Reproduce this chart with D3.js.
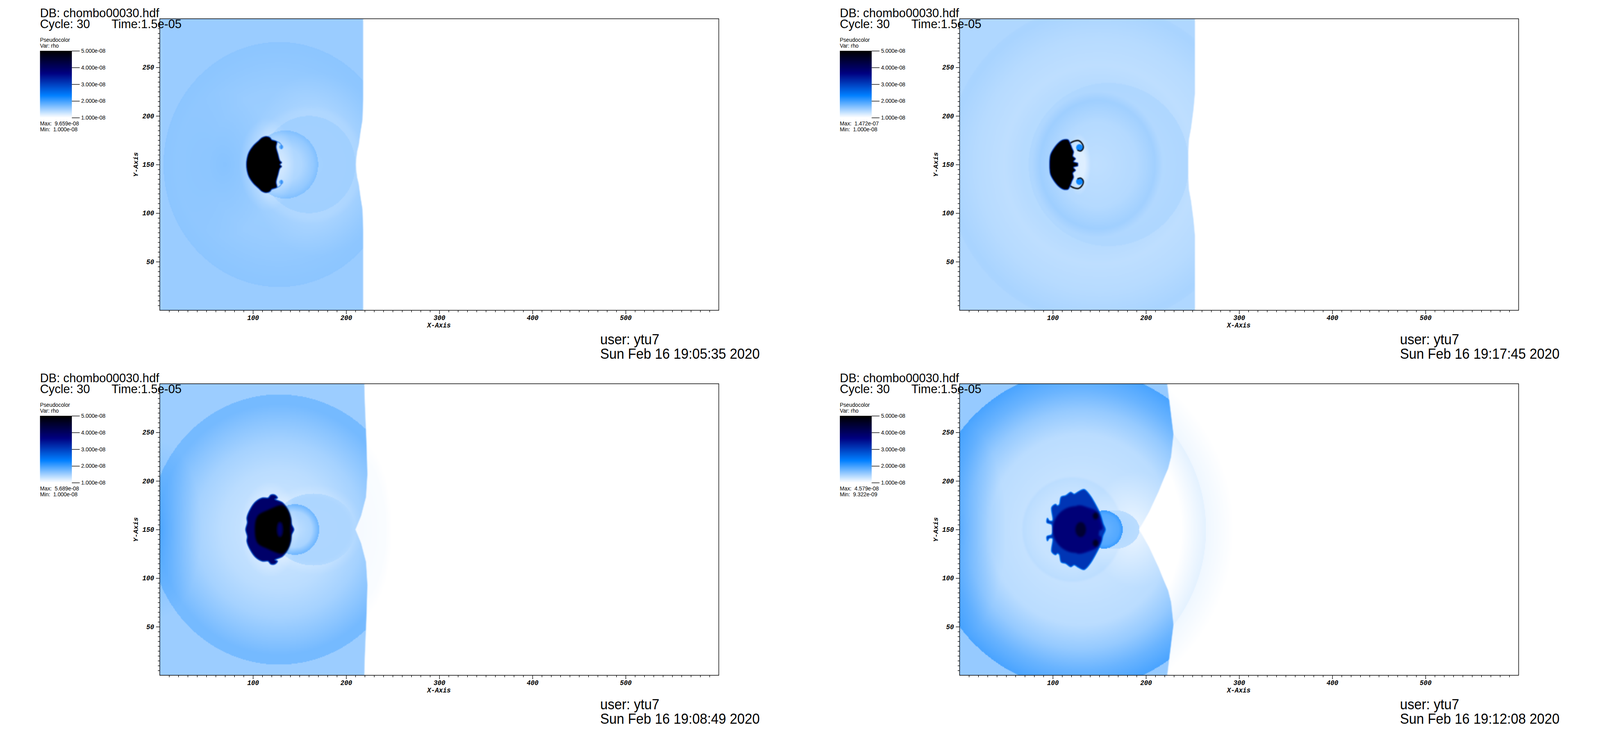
<!DOCTYPE html>
<html>
<head>
<meta charset="utf-8">
<script src="https://cdn.jsdelivr.net/npm/d3@7"></script>
<style>
  html, body { margin: 0; background: #fff; overflow: hidden; }
  svg { display: block; }
  text { font-family: "Liberation Sans", sans-serif; fill: #000; }
  .tick text, .axis-title { font-family: "Liberation Mono", monospace; font-weight: bold; font-style: italic; font-size: 17.5px; }
</style>
</head>
<body>
<script>
// panel text, same order as the picture: top left, top right, bottom left, bottom right
const maxLabels = ['9.659e-08', '1.472e-07', '5.689e-08', '4.579e-08'];
const minLabels = ['1.000e-08', '1.000e-08', '1.000e-08', '9.322e-09'];
const dateLabels = ['Sun Feb 16 19:05:35 2020', 'Sun Feb 16 19:17:45 2020', 'Sun Feb 16 19:08:49 2020', 'Sun Feb 16 19:12:08 2020'];

const xMajorTicks = [100, 200, 300, 400, 500];
const yMajorTicks = [50, 100, 150, 200, 250];
const legendTicks = [1, 2, 3, 4, 5];

// colour table of rho (units of 1e-8)
const rhoStops = [1, 2.333, 3.667, 5];
const colorStops = ['#ffffff', '#007fff', '#00007f', '#000000'];

const frontDy = [
  [0, 5, 13.4, 20, 34, 46, 67, 150],
  [0, 12, 25, 37, 57, 73, 150],
  [0, 14, 33.5, 57, 92, 131, 150],
  [0, 9, 18, 39, 52, 62.8, 75, 98, 125, 150]
];
const frontX = [
  [210.5, 210.7, 211.8, 213.5, 215.5, 217.5, 218.3, 218.3],
  [245.3, 245.4, 246, 248.3, 251, 252.5, 252.5],
  [210, 216, 221.3, 222.8, 221.7, 220, 219.5],
  [192.6, 198, 203.3, 213.5, 219, 223.8, 227, 229.5, 226, 222.8]
];

const backgroundRho = [1.53, 1.42, 1.52, 1.55];

// shells behind the front: [mode, centre x, x radius, y radius, shell positions, rho]
const shells1 = [
  ['add', 0, 5, 400, [0, 1], [-0.05, 0]],
  ['set', 128, 124, 126, [0, 0.6, 0.85, 1], [1.5, 1.53, 1.58, 1.6]],
  ['add', 70, 50, 75, [0, 1], [0.1, 0]],
  ['add', 170, 75, 95, [0, 0.6, 1], [-0.1, -0.08, 0]],
  ['add', 160, 62, 62, [0.75, 0.9, 1], [-0.03, -0.03, 0]],
  ['set', 160, 50, 50, [0, 0.85, 1], [1.48, 1.49, 1.49]],
  ['set', 135, 35, 35, [0, 0.5, 0.85, 1], [1.36, 1.42, 1.56, 1.66]],
  ['add', 115, 30, 48, [0.55, 0.75, 1], [-0.14, -0.08, 0]]
];
const shells2 = [
  ['set', 150, 165, 165, [0, 0.5, 0.62, 0.8, 0.97, 1], [1.36, 1.38, 1.34, 1.38, 1.45, 1.44]],
  ['set', 160, 86, 84, [0, 0.7, 0.97, 1], [1.38, 1.4, 1.42, 1.41]],
  ['add', 148, 70, 75, [0.6, 0.88, 1], [0, 0.09, 0]],
  ['add', 145, 40, 50, [0, 1], [-0.05, 0]],
  ['add', 128, 13, 32, [0.5, 1], [-0.18, 0]]
];
const shells3 = [
  ['set', 128, 139, 139, [0, 0.25, 0.45, 0.65, 0.8, 0.93, 1], [1.3, 1.3, 1.36, 1.47, 1.6, 1.72, 1.72]],
  ['add', 0, 45, 90, [0, 1], [0.22, 0]],
  ['add', 165, 55, 47, [0.7, 1], [-0.07, 0]],
  ['set', 165, 45, 37, [0, 0.85, 1], [1.42, 1.43, 1.4]],
  ['set', 145, 26, 26, [0, 0.7, 0.95, 1], [1.33, 1.45, 1.72, 1.75]],
  ['add', 118, 32, 50, [0.55, 1], [-0.12, 0]]
];
const shells4 = [
  ['set', 130, 164, 164, [0, 0.35, 0.6, 0.75, 0.88, 1], [1.28, 1.3, 1.36, 1.55, 1.78, 1.95]],
  ['add', 0, 50, 110, [0, 1], [0.25, 0]],
  ['add', 121, 55, 55, [0.7, 0.95, 1], [0, 0.05, 0]],
  ['add', 190, 50, 60, [0, 1], [-0.2, 0]],
  ['set', 165, 28, 20, [0, 1], [1.42, 1.36]],
  ['set', 155, 20, 19.5, [0, 0.8, 1], [1.78, 1.9, 2.05]]
];
const shellSets = [shells1, shells2, shells3, shells4];

// faint gas ahead of the front
const aheadSets = [
  [],
  [],
  [['set', 213, 36, 92, [0, 0.8, 1], [1.05, 1.03, 1]]],
  [['set', 108, 186, 186, [0.7, 0.84, 0.842, 1], [1, 1.14, 1.08, 1]]]
];

// clump outline, upper half as [x, distance above midline]
const clump1 = [[92.9, 0], [93.6, 6.7], [95.6, 12.7], [100.3, 19.4], [106.3, 24.8], [109.6, 27.7], [114.3, 29.1], [118.3, 27.9], [120.3, 25.5], [125.7, 23.5], [125, 18.1], [127, 10.7], [129, 4], [131, 2], [129, 0]];
const clump2 = [[96.5, 0], [97.4, 10], [101.3, 17], [106.7, 23], [111.2, 25.6], [116.5, 25.6], [118.7, 22], [120.7, 17], [122.5, 13], [121.6, 8.6], [124.6, 6], [122.3, 3], [127, 1.4], [127, 0]];
const clump3 = [[92.2, 0], [94, 7.2], [93.5, 12.1], [97.6, 21.8], [103, 28.7], [110.2, 32.6], [116.4, 32.6], [119.1, 35.5], [123.6, 35.5], [126.3, 32.6], [123.6, 31.2], [131.7, 27.7], [137, 20.9], [140.6, 12], [141.5, 5.3], [143.9, 0]];
const clump4 = [[99.8, 0], [98.8, 5.3], [93.7, 7.2], [94.3, 11.7], [96.3, 9], [99.8, 9.2], [98.8, 22.8], [103, 26], [105, 24.5], [107, 25.7], [109, 33.5], [114, 35], [119.3, 38.4], [123, 36.5], [127.5, 39], [133.6, 41.3], [139.8, 35.5], [146, 25.7], [151, 16], [154.1, 6.2], [156.6, 0]];
const clumps = [clump1, clump2, clump3, clump4];
const clumpRho = [5, 5, 3.9, 3.1];
const clumpRimWidth = [1.5, 1.5, 2.5, 2.5];
const clumpRimRho = [3, 3, 3, 2.5];

// darker parts inside a clump: outlines and their rho
const coreOutlines = [
  [], [],
  [[[102, 0], [105, 14], [116, 20], [131.7, 25], [137.5, 20], [140.5, 10], [140, 0]]],
  [[[125, 24], [140, 22], [148, 18], [152, 8], [153, 0], [125, 0]]]
];
const coreOutlineRho = [[], [], [5], [3.65]];
// [x, distance above midline, x radius, y radius, rho]
const coreSpots = [
  [], [],
  [[129, 0, 2.5, 7, 3.9]],
  [[125, 0, 25, 24, 3.75], [130, 0, 6, 8, 4.5], [146, 14, 3.5, 4, 4.6]]
];

// roll-up tails at the clump edge
const tails = [
  [[[120.3, 25.5], [125, 24], [129, 22], [131, 19], [130.5, 16]]],
  [[[118.7, 22], [122.8, 24], [127.7, 24.6], [131.8, 21], [132.7, 17], [130, 14], [126.4, 15]]],
  [],
  []
];
const tailRho = [2.6, 5, 3, 3];
const tailWidth = [1.5, 3.5, 2, 2];
// [x, distance above midline, radius, rho]
const swirls = [
  [[130.4, 18, 2.2, 1.9]],
  [[128.6, 17.4, 3.6, 2.25]],
  [],
  []
];

const W = 4276, H = 1868;
const plotW = 1494, plotH = 746;
const panelLeft = [427, 2564.5, 427, 2564.5];
const panelTop = [48, 48, 982, 982];

const xDomain = [0, 600], yDomain = [0, 300];
const midY = 150;

const colorScale = d3.scaleLinear().domain(rhoStops).range(colorStops).clamp(true);
const lutSize = 2048;
const lut = d3.range(lutSize).map(i => d3.rgb(colorScale(1 + 4 * i / (lutSize - 1))));

// the browser may hand us a narrower window than asked, so fit the whole layout to it
const svg = d3.select('body').append('svg')
  .attr('width', window.innerWidth).attr('height', window.innerHeight)
  .attr('viewBox', `0 0 ${W} ${H}`).attr('preserveAspectRatio', 'none');
const defs = svg.append('defs');
function addBlur(id, sd) {
  defs.append('filter').attr('id', id)
    .attr('x', '-10%').attr('y', '-10%').attr('width', '120%').attr('height', '120%')
    .append('feGaussianBlur').attr('stdDeviation', sd);
}
addBlur('soft', 1.1);
addBlur('softer', 2.5);

function makeShells(list) {
  return list.map(s => ({
    mode: s[0], cx: s[1], ax: s[2], ay: s[3],
    profile: d3.scaleLinear().domain(s[4]).range(s[5]).clamp(true)
  }));
}

function rhoAt(shells, base, x, dy) {
  let rho = base;
  for (const s of shells) {
    const u = (x - s.cx) / s.ax, v = dy / s.ay;
    const d = Math.sqrt(u * u + v * v);
    if (d >= 1) continue;
    if (s.mode === 'set') rho = s.profile(d);
    else rho += s.profile(d);
  }
  return rho;
}

// paint the density field at half size, the svg image scales it back up
function fieldImage(i) {
  const gw = plotW / 2, gh = plotH / 2;
  const canvas = document.createElement('canvas');
  canvas.width = gw; canvas.height = gh;
  const ctx = canvas.getContext('2d');
  const img = ctx.createImageData(gw, gh);
  const gx = d3.scaleLinear().domain([0, gw]).range(xDomain);
  const gy = d3.scaleLinear().domain([0, gh]).range([yDomain[1], yDomain[0]]);
  const front = d3.scaleLinear().domain(frontDy[i]).range(frontX[i]).clamp(true);
  const behind = makeShells(shellSets[i]);
  const ahead = makeShells(aheadSets[i]);
  for (let r = 0; r < gh; r++) {
    const dy = Math.abs(gy(r + 0.5) - midY);
    const fx = front(dy);
    for (let c = 0; c < gw; c++) {
      const x = gx(c + 0.5);
      const a = Math.max(0, Math.min(1, (fx - x) / 1.2 + 0.5));
      let rho = 0;
      if (a > 0) rho += a * rhoAt(behind, backgroundRho[i], x, dy);
      if (a < 1) rho += (1 - a) * rhoAt(ahead, 1, x, dy);
      const k = Math.max(0, Math.min(lutSize - 1, Math.round((rho - 1) / 4 * (lutSize - 1))));
      const col = lut[k], p = (r * gw + c) * 4;
      img.data[p] = col.r; img.data[p + 1] = col.g; img.data[p + 2] = col.b; img.data[p + 3] = 255;
    }
  }
  ctx.putImageData(img, 0, 0);
  return canvas.toDataURL('image/png');
}

function mirrored(outline) {
  const lower = outline.filter(d => d[1] > 0).reverse().map(d => [d[0], -d[1]]);
  return outline.concat(lower);
}

function drawPanel(i) {
  const left = panelLeft[i], top = panelTop[i];
  const xs = d3.scaleLinear().domain(xDomain).range([left, left + plotW]);
  const ys = d3.scaleLinear().domain(yDomain).range([top + plotH, top]);
  const g = svg.append('g');

  g.append('image').attr('x', left).attr('y', top)
    .attr('width', plotW).attr('height', plotH)
    .attr('preserveAspectRatio', 'none')
    .attr('href', fieldImage(i));

  const closed = d3.line().x(d => xs(d[0])).y(d => ys(midY + d[1])).curve(d3.curveCatmullRomClosed.alpha(0.5));
  const open = d3.line().x(d => xs(d[0])).y(d => ys(midY + d[1])).curve(d3.curveCatmullRom.alpha(0.5));
  const soft = g.append('g').attr('filter', 'url(#soft)');

  swirls[i].forEach(s => [1, -1].forEach(sign => {
    soft.append('ellipse')
      .attr('cx', xs(s[0])).attr('cy', ys(midY + sign * s[1]))
      .attr('rx', xs(s[2]) - xs(0)).attr('ry', ys(0) - ys(s[2]))
      .attr('fill', colorScale(s[3]));
  }));
  tails[i].forEach(t => [1, -1].forEach(sign => {
    soft.append('path').attr('d', open(t.map(d => [d[0], sign * d[1]])))
      .attr('fill', 'none').attr('stroke', colorScale(tailRho[i])).attr('stroke-width', tailWidth[i]);
  }));
  soft.append('path').attr('d', closed(mirrored(clumps[i])))
    .attr('fill', colorScale(clumpRho[i]))
    .attr('stroke', colorScale(clumpRimRho[i])).attr('stroke-width', clumpRimWidth[i]);

  const inner = g.append('g').attr('filter', 'url(#softer)');
  coreOutlines[i].forEach((o, k) => {
    inner.append('path').attr('d', closed(mirrored(o))).attr('fill', colorScale(coreOutlineRho[i][k]));
  });
  coreSpots[i].forEach(s => (s[1] ? [1, -1] : [1]).forEach(sign => {
    inner.append('ellipse')
      .attr('cx', xs(s[0])).attr('cy', ys(midY + sign * s[1]))
      .attr('rx', xs(s[2]) - xs(0)).attr('ry', ys(0) - ys(s[3]))
      .attr('fill', colorScale(s[4]));
  }));

  // frame
  g.append('rect').attr('x', left).attr('y', top).attr('width', plotW).attr('height', plotH)
    .attr('fill', 'none').attr('stroke', '#000').attr('stroke-width', 1.5);

  // axes, minor ticks every 10 on x and every 5 on y
  const xAxis = d3.axisBottom(xs).tickValues(d3.range(10, 600, 10))
    .tickSize(5).tickSizeOuter(0)
    .tickFormat(d => xMajorTicks.includes(d) ? d : '');
  const xg = g.append('g').attr('transform', `translate(0,${top + plotH})`).call(xAxis);
  xg.select('.domain').remove();
  xg.selectAll('.tick line').attr('stroke-width', 1.4)
    .attr('y2', d => xMajorTicks.includes(d) ? 10 : 5);
  xg.selectAll('.tick text').attr('y', 12.5);

  const yAxis = d3.axisLeft(ys).tickValues(d3.range(5, 300, 5))
    .tickSize(5).tickSizeOuter(0)
    .tickFormat(d => yMajorTicks.includes(d) ? d : '');
  const yg = g.append('g').attr('transform', `translate(${left},0)`).call(yAxis);
  yg.select('.domain').remove();
  yg.selectAll('.tick line').attr('stroke-width', 1.4)
    .attr('x2', d => yMajorTicks.includes(d) ? -10 : -5);
  yg.selectAll('.tick text').attr('x', -15);

  g.append('text').attr('class', 'axis-title').attr('text-anchor', 'middle')
    .attr('x', left + plotW / 2 - 1).attr('y', top + plotH + 44).text('X-Axis');
  g.append('text').attr('class', 'axis-title').attr('text-anchor', 'middle')
    .attr('transform', `translate(${left - 58},${top + plotH / 2}) rotate(-90)`).text('Y-Axis');

  // header
  const tx = left - 320;
  g.append('text').attr('x', tx).attr('y', top - 4).attr('font-size', 32).text('DB: chombo00030.hdf');
  g.append('text').attr('x', tx).attr('y', top + 24).attr('font-size', 32).text('Cycle: 30');
  g.append('text').attr('x', tx + 191).attr('y', top + 24).attr('font-size', 32).text('Time:1.5e-05');

  // colour bar
  g.append('text').attr('x', tx).attr('y', top + 59).attr('font-size', 14.4).text('Pseudocolor');
  g.append('text').attr('x', tx).attr('y', top + 74).attr('font-size', 14.4).text('Var: rho');
  const barLeft = tx, barW = 85;
  const barY = d3.scaleLinear().domain([1, 5]).range([top + 253, top + 82]);
  const barSteps = d3.range(1, 5, 4 / 171);
  g.append('g').selectAll('rect').data(barSteps).join('rect')
    .attr('x', barLeft).attr('width', barW)
    .attr('y', d => barY(d) - 1).attr('height', 1.4)
    .attr('fill', d => colorScale(d));
  const barAxis = d3.axisRight(barY).tickValues(legendTicks).tickSize(21).tickSizeOuter(0)
    .tickFormat(d => d3.format('.3f')(d) + 'e-08');
  const bg = g.append('g').attr('transform', `translate(${barLeft + barW},0)`).call(barAxis);
  bg.select('.domain').remove();
  bg.selectAll('.tick line').attr('stroke-width', 1.4);
  bg.selectAll('.tick text').attr('x', 25)
    .style('font-family', '"Liberation Sans", sans-serif').style('font-weight', 'normal')
    .style('font-style', 'normal').style('font-size', '14.4px');
  g.append('text').attr('x', tx).attr('y', top + 273).attr('font-size', 14.4).attr('xml:space', 'preserve').text('Max:  ' + maxLabels[i]);
  g.append('text').attr('x', tx).attr('y', top + 288).attr('font-size', 14.4).attr('xml:space', 'preserve').text('Min:  ' + minLabels[i]);

  // user and date
  g.append('text').attr('x', left + 1177).attr('y', top + plotH + 87).attr('font-size', 36).text('user: ytu7');
  g.append('text').attr('x', left + 1177).attr('y', top + plotH + 124).attr('font-size', 36).text(dateLabels[i]);
}

d3.range(4).forEach(drawPanel);
</script>
</body>
</html>
